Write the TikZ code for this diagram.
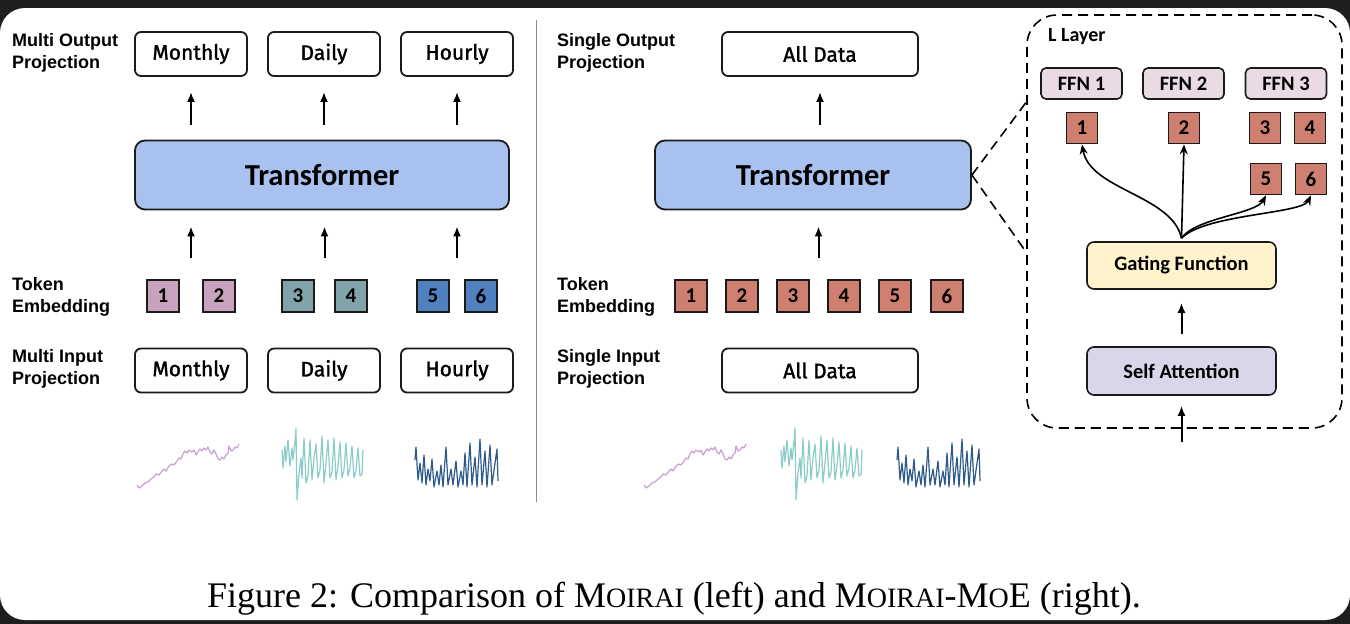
\documentclass[tikz,border=0pt]{standalone}
\usepackage{fontspec}
\setmainfont{Liberation Serif}
\newfontfamily\lblfont{Liberation Sans}
\newfontfamily\calfont{Carlito}
\newfontfamily\comicfont{Fira Sans}[FakeBold=1.5]
\usetikzlibrary{arrows.meta,calc}
\definecolor{bgdark}{HTML}{1E1E1E}
\definecolor{boxline}{HTML}{1A1A1A}
\definecolor{transblue}{HTML}{A9C1EE}
\definecolor{tokpink}{HTML}{C9A3BD}
\definecolor{tokteal}{HTML}{7FA3A8}
\definecolor{tokblue}{HTML}{4F80BF}
\definecolor{toksalmon}{HTML}{CF7F6F}
\definecolor{ffnpink}{HTML}{EADAE4}
\definecolor{gateyellow}{HTML}{FFF3CC}
\definecolor{salav}{HTML}{DAD6EA}
\definecolor{serpurple}{HTML}{C6A0D0}
\definecolor{serteal}{HTML}{8CCDCB}
\definecolor{serblue}{HTML}{2F5A8A}
\definecolor{divgrey}{HTML}{8A8A8A}
\newcommand{\capsc}[1]{{\fontsize{28}{28}\selectfont #1}}
\newcommand{\purplepath}{\draw[serline, serpurple] (0,43) -- (2,46) -- (5,44) -- (8,41) -- (11,40) -- (14,37) -- (17,35) -- (19,32) -- (22,33) -- (25,29) -- (27,27) -- (29,29) -- (32,24) -- (35,22) -- (37,23) -- (40,19) -- (42,16) -- (44,17) -- (46,12) -- (48,9) -- (50,11) -- (52,8) -- (55,10) -- (57,8) -- (59,13) -- (61,10) -- (63,7) -- (65,9) -- (67,6) -- (69,8) -- (71,5) -- (73,10) -- (75,12) -- (77,8) -- (79,12) -- (81,17) -- (83,18) -- (85,15) -- (87,17) -- (89,13) -- (91,11) -- (92,4) -- (94,9) -- (96,8) -- (98,5) -- (100,6) -- (102,2);}
\newcommand{\tealpath}{\draw[serline, serteal] (0,22) -- (1,40) -- (3,18) -- (4,34) -- (6,12) -- (8,38) -- (10,20) -- (11,32) -- (13,14) -- (14,0) -- (15,72) -- (17,45) -- (19,30) -- (20,50) -- (22,10) -- (24,55) -- (26,48) -- (28,12) -- (30,52) -- (32,30) -- (34,16) -- (36,50) -- (38,42) -- (40,8) -- (42,55) -- (44,35) -- (46,12) -- (48,50) -- (50,44) -- (52,10) -- (54,52) -- (56,38) -- (58,14) -- (60,50) -- (62,42) -- (64,15) -- (66,48) -- (68,40) -- (70,18) -- (72,50) -- (74,42) -- (76,20) -- (78,48) -- (80,46) -- (81,22);}
\newcommand{\bluepath}{\draw[serline, serblue] (0,25) -- (1,12) -- (3,45) -- (5,28) -- (7,48) -- (9,20) -- (11,50) -- (13,34) -- (15,46) -- (17,24) -- (19,52) -- (22,36) -- (24,50) -- (26,30) -- (28,52) -- (31,12) -- (33,50) -- (36,34) -- (38,50) -- (41,26) -- (43,52) -- (46,36) -- (48,50) -- (50,18) -- (52,52) -- (55,8) -- (57,50) -- (60,22) -- (62,52) -- (65,4) -- (67,50) -- (70,16) -- (72,52) -- (75,10) -- (77,50) -- (80,28) -- (82,14) -- (83,46);}
\begin{document}
\begin{tikzpicture}[x=1pt,y=-1pt,
  lbl/.style={font=\lblfont\bfseries\fontsize{18}{22}\selectfont, align=left, anchor=west, inner sep=0pt},
  pbox/.style={draw=boxline, line width=1.8pt, rounded corners=6pt, minimum width=112pt, minimum height=44pt, inner sep=0pt, fill=white, font=\comicfont\fontsize{21}{21}\selectfont},
  tok/.style={draw=boxline, line width=1.7pt, minimum size=32pt, inner sep=0pt, font=\calfont\bfseries\fontsize{21}{21}\selectfont},
  transbox/.style={draw=boxline, line width=1.8pt, rounded corners=10pt, fill=transblue, minimum height=69pt, inner sep=0pt, font=\calfont\bfseries\fontsize{30.5}{30.5}\selectfont},
  inbox/.style={draw=boxline, line width=1.6pt, rounded corners=7pt, inner sep=0pt, font=\calfont\bfseries\fontsize{20.5}{20.5}\selectfont},
  arr/.style={-{Latex[length=10pt,width=8pt]}, line width=2pt},
  carr/.style={-{Stealth[length=10pt,width=8pt]}, line width=1.6pt},
  dashconn/.style={line width=1.6pt, dash pattern=on 10pt off 6pt},
  serline/.style={line width=1.2pt, line join=round},
]
\useasboundingbox (0,0) rectangle (1350,624);
\fill[bgdark] (0,0) rectangle (1350,624);
\fill[white, rounded corners=25pt] (0,8) rectangle (1350,620);

% ---------- left panel ----------
\node[lbl] (lmo) at (12,53) {Multi Output\\Projection};
\node[lbl] (lte) at (12,297) {Token\\Embedding};
\node[lbl] (lmi) at (12,369) {Multi Input\\Projection};

\node[pbox] (om) at (191,54) {Monthly};
\node[pbox] (od) at (324,54) {Daily};
\node[pbox] (oh) at (457,54) {Hourly};

\node[transbox, minimum width=374pt] (tl) at (322,175) {Transformer};

\node[tok, fill=tokpink] (t1) at (163,296) {1};
\node[tok, fill=tokpink] (t2) at (219,296) {2};
\node[tok, fill=tokteal] (t3) at (298,296) {3};
\node[tok, fill=tokteal] (t4) at (351,296) {4};
\node[tok, fill=tokblue] (t5) at (433,296) {5};
\node[tok, fill=tokblue] (t6) at (481,296) {6};

\node[pbox] (im) at (191,370.5) {Monthly};
\node[pbox] (id) at (324,370.5) {Daily};
\node[pbox] (ih) at (457,370.5) {Hourly};

\foreach \o in {om,od,oh}
  \draw[arr, shorten <=15pt, shorten >=15pt] (tl.north -| \o.south) -- (\o.south);
\path (t1.north) -- coordinate[midway] (m12) (t2.north);
\path (t3.north) -- coordinate[midway] (m34) (t4.north);
\path (t5.north) -- coordinate[midway] (m56) (t6.north);
\foreach \m in {m12,m34,m56}
  \draw[arr, shorten <=21pt, shorten >=16pt] (\m) -- (\m |- tl.south);

\begin{scope}[shift={(137,442)}]\purplepath\end{scope}
\begin{scope}[shift={(282,428)}]\tealpath\end{scope}
\begin{scope}[shift={(415,435)}]\bluepath\end{scope}

% divider
\coordinate (dtop) at (536,20);
\coordinate (dbot) at (536,502);
\draw[divgrey, line width=1pt] (dtop) -- (dbot);

% ---------- middle panel ----------
\node[lbl] (lso) at (557,53) {Single Output\\Projection};
\node[lbl] (lte2) at (557,297) {Token\\Embedding};
\node[lbl] (lsi) at (557,369) {Single Input\\Projection};

\node[pbox, minimum width=196pt] (oa) at (820,54) {All Data};
\node[transbox, minimum width=316pt] (tr) at (813,175) {Transformer};

\node[tok, fill=toksalmon] (r1) at (691,296) {1};
\node[tok, fill=toksalmon] (r2) at (742,296) {2};
\node[tok, fill=toksalmon] (r3) at (793,296) {3};
\node[tok, fill=toksalmon] (r4) at (844,296) {4};
\node[tok, fill=toksalmon] (r5) at (895,296) {5};
\node[tok, fill=toksalmon] (r6) at (947,296) {6};

\node[pbox, minimum width=196pt] (ia) at (820,370.5) {All Data};

\draw[arr, shorten <=15pt, shorten >=15pt] (tr.north -| oa.south) -- (oa.south);
\path (r3.north) -- coordinate[midway] (rm34) (r4.north);
\draw[arr, shorten <=21pt, shorten >=16pt] (rm34) -- (rm34 |- tr.south);

\begin{scope}[shift={(644,442)}]\purplepath\end{scope}
\begin{scope}[shift={(781,428)}]\tealpath\end{scope}
\begin{scope}[shift={(897,435)}]\bluepath\end{scope}

% ---------- right panel: L layer ----------
\node[draw=black, dashconn, rounded corners=30pt, minimum width=315pt, minimum height=413pt, inner sep=0pt] (ll) at (1184.5,221.5) {};
\node[anchor=west, inner sep=0pt, font=\calfont\bfseries\fontsize{20}{20}\selectfont] (ltxt) at (1048,37) {L Layer};

\node[inbox, fill=ffnpink, rounded corners=5pt, minimum width=81pt, minimum height=31pt] (f1) at (1081.5,83.5) {FFN 1};
\node[inbox, fill=ffnpink, rounded corners=5pt, minimum width=81pt, minimum height=31pt] (f2) at (1183.5,83.5) {FFN 2};
\node[inbox, fill=ffnpink, rounded corners=5pt, minimum width=81pt, minimum height=31pt] (f3) at (1286,83.5) {FFN 3};

\node[tok, fill=toksalmon, minimum size=31pt] (e1) at (1082,128) {1};
\node[tok, fill=toksalmon, minimum size=31pt] (e2) at (1184,128) {2};
\node[tok, fill=toksalmon, minimum size=31pt] (e3) at (1265,128) {3};
\node[tok, fill=toksalmon, minimum size=31pt] (e4) at (1310,128) {4};
\node[tok, fill=toksalmon, minimum size=31pt] (e5) at (1266,179) {5};
\node[tok, fill=toksalmon, minimum size=31pt] (e6) at (1311,179) {6};

\node[inbox, fill=gateyellow, minimum width=189pt, minimum height=47pt] (gate) at (1181.5,265.5) {Gating Function};
\node[inbox, fill=salav, minimum width=189pt, minimum height=48pt] (sa) at (1181.5,371) {Self Attention};

\draw[arr, shorten <=12pt, shorten >=13pt] (sa.north) -- (gate.south);
\coordinate (sain) at (1181.5,442);
\draw[arr, shorten >=10pt] (sain) -- (sa.south);

\coordinate (go) at ($(gate.north)+(0,-3)$);
\draw[carr] (go) .. controls (1172,195) and (1090,190) .. (e1.south);
\draw[carr] (go) -- (e2.south);
\draw[carr] (go) .. controls (1195,218) and (1256,214) .. (e5.south);
\draw[carr] (go) .. controls (1205,214) and (1302,214) .. (e6.south);

\coordinate (cu) at ($(ll.north west)+(0,88)$);
\coordinate (cd) at ($(ll.north west)+(0,238)$);
\draw[dashconn] (tr.east) -- (cu);
\draw[dashconn] (tr.east) -- (cd);

% ---------- caption ----------
\node[inner sep=0pt, anchor=base, font=\fontsize{36}{36}\selectfont] (cap) at (674,607) {Figure 2: Comparison of M\capsc{OIRAI} (left) and M\capsc{OIRAI}-M\capsc{O}E (right).};
\end{tikzpicture}
\end{document}
